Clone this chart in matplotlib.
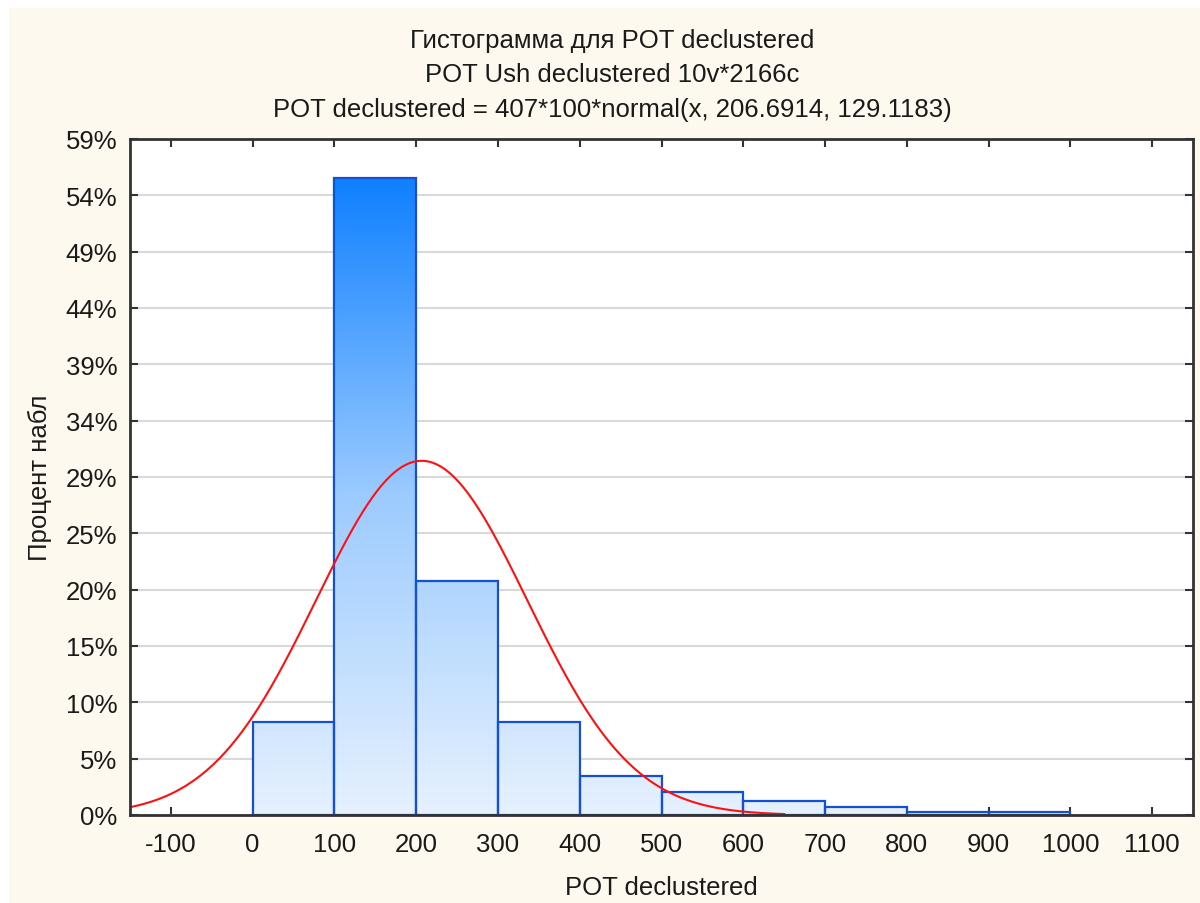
import numpy as np
import matplotlib
matplotlib.use("Agg")
import matplotlib.pyplot as plt
from matplotlib.colors import LinearSegmentedColormap
from matplotlib.patches import Rectangle

# ---- data ----
bin_edges = [0, 100, 200, 300, 400, 500, 600, 700, 800, 900, 1000]
counts = [33, 226, 83, 33, 14, 8, 5, 3, 1, 1]
n_total = 407
fit_mean = 206.6914
fit_sd = 129.1183
fit_binwidth = 100
curve_range = (-150, 650)
y_tick_counts = [0, 20, 40, 60, 80, 100, 120, 140, 160, 180, 200, 220, 240]
y_tick_labels = ["0%", "5%", "10%", "15%", "20%", "25%", "29%", "34%", "39%",
                 "44%", "49%", "54%", "59%"]
x_ticks = [-100, 0, 100, 200, 300, 400, 500, 600, 700, 800, 900, 1000, 1100]
title_lines = ["Гистограмма для POT declustered",
               "POT Ush declustered 10v*2166c",
               "POT declustered = 407*100*normal(x, 206.6914, 129.1183)"]
x_label = "POT declustered"
y_label = "Процент набл"

plt.rcParams['font.family'] = ['Liberation Sans', 'DejaVu Sans']
FS = 18.5
TXT = '#1a1a1a'

fig = plt.figure(figsize=(12, 9.04), dpi=100)
fig.patch.set_facecolor('white')
# cream panel background with a thin white margin at top/left
fig.patches.append(Rectangle((9 / 1200, 0), 1 - 9 / 1200, 1 - 9 / 904,
                             transform=fig.transFigure, facecolor='#FEF9EE',
                             edgecolor='none', zorder=-10))

ax = fig.add_axes([130 / 1200, 1 - 816 / 904, (1193 - 130) / 1200, (816 - 140) / 904])
ax.set_facecolor('white')

cmap = LinearSegmentedColormap.from_list('g', ['#E6F1FE', '#9CCBFF', '#0F80FF'])
maxc = max(counts)
for x0, x1, c in zip(bin_edges[:-1], bin_edges[1:], counts):
    grad = np.linspace(0, c, 256).reshape(-1, 1)
    ax.imshow(grad, extent=[x0, x1, 0, c], origin='lower', cmap=cmap,
              vmin=0, vmax=maxc, aspect='auto', zorder=2, interpolation='bilinear')
ax.bar(bin_edges[:-1], counts, width=np.diff(bin_edges), align='edge',
       fill=False, edgecolor='#1450D2', linewidth=1.6, zorder=3)

xs = np.linspace(curve_range[0], curve_range[1], 400)
ys = n_total * fit_binwidth * np.exp(-0.5 * ((xs - fit_mean) / fit_sd) ** 2) / (fit_sd * np.sqrt(2 * np.pi))
ax.plot(xs, ys, color='#FF1010', linewidth=1.5, zorder=4)

ax.set_xlim(-150, 1150)
ax.set_ylim(0, 240)
ax.set_xticks(x_ticks)
ax.set_xticklabels([str(v) for v in x_ticks])
ax.set_yticks(y_tick_counts)
ax.set_yticklabels(y_tick_labels)
ax.grid(axis='y', color='#D9D9D9', linewidth=1.5, zorder=0)
ax.set_axisbelow(True)
ax.tick_params(axis='both', direction='in', length=6, width=1.5, color='#333333',
               labelsize=FS, labelcolor=TXT, top=True, right=True)
ax.tick_params(axis='y', pad=9)
ax.tick_params(axis='x', pad=12)
for s in ax.spines.values():
    s.set_color('#333333')
    s.set_linewidth(2)
    s.set_zorder(5)

ax.set_xlabel(x_label, fontsize=FS, color=TXT, labelpad=14)
ax.set_ylabel(y_label, fontsize=FS, color=TXT, labelpad=10)

for yy, t in zip([41, 75, 110], title_lines):
    fig.text(612 / 1200, 1 - yy / 904, t, ha='center', va='center', fontsize=FS, color=TXT)

fig.savefig('out.png', dpi=100, facecolor=fig.get_facecolor())
